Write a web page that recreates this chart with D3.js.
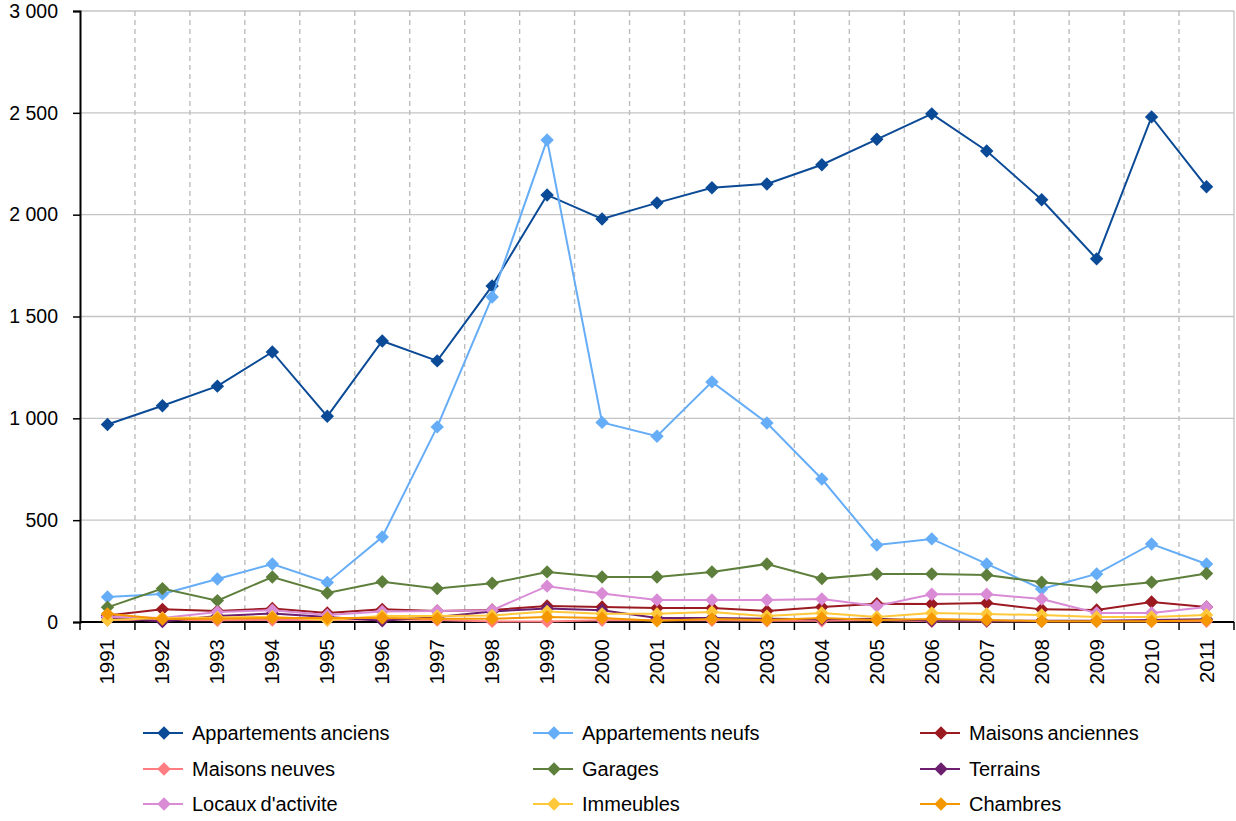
<!DOCTYPE html>
<html>
<head>
<meta charset="utf-8">
<script src="https://cdn.jsdelivr.net/npm/d3@7/dist/d3.min.js"></script>
<style>
  html, body { margin: 0; padding: 0; background: #fff; }
  svg { display: block; font-family: "Liberation Sans", Arial, sans-serif; }
</style>
</head>
<body>
<svg id="chart" width="1236" height="821"></svg>
<script>
// Categories (years) and transaction counts per property type
const years = ["1991","1992","1993","1994","1995","1996","1997","1998","1999","2000",
               "2001","2002","2003","2004","2005","2006","2007","2008","2009","2010","2011"];

const appartementsAnciens = [970,1062,1158,1326,1010,1380,1282,1650,2097,1979,2058,2132,2151,2245,2370,2495,2313,2073,1783,2480,2137];
const appartementsNeufs   = [123,138,211,285,194,417,958,1596,2367,980,912,1179,977,702,378,408,285,162,236,383,285];
const maisonsAnciennes    = [32,62,54,66,44,62,54,59,79,74,69,69,54,74,90,88,93,62,59,98,74];
const maisonsNeuves       = [10,10,8,10,10,14,10,3,3,8,8,8,6,6,10,4,4,4,4,4,4];
const garages             = [72,164,105,221,142,198,164,190,246,221,221,246,285,213,236,236,231,195,170,195,238];
const terrains            = [22,2,30,42,24,6,24,52,66,58,20,20,16,14,16,6,6,6,6,10,14];
const locauxActivite      = [26,20,49,58,34,52,54,58,176,140,108,108,108,113,79,136,136,113,44,44,74];
const immeubles           = [10,20,22,26,10,30,30,32,52,40,40,49,29,44,25,44,39,34,25,25,34];
const chambres            = [40,15,16,20,20,20,16,16,25,20,6,15,10,20,10,15,10,4,4,4,8];

const yTicks = [0,500,1000,1500,2000,2500,3000];

const seriesNames  = ["Appartements anciens","Appartements neufs","Maisons anciennes",
                      "Maisons neuves","Garages","Terrains",
                      "Locaux d'activite","Immeubles","Chambres"];
const seriesValues = [appartementsAnciens, appartementsNeufs, maisonsAnciennes,
                      maisonsNeuves, garages, terrains,
                      locauxActivite, immeubles, chambres];
const seriesColors = ["#0b4a96","#66adf7","#9b1a22",
                      "#ff7c80","#5e7f3c","#6c1f6e",
                      "#d98bd5","#ffc83a","#f59800"];

const series = seriesNames.map((name, i) => ({
  name, color: seriesColors[i],
  values: years.map((y, j) => ({ year: y, value: seriesValues[i][j] }))
}));

const svg = d3.select("#chart");
const plotLeft = 80, plotRight = 1234, plotTop = 11, plotBottom = 622;

const x = d3.scaleBand().domain(years).range([plotLeft, plotRight]).paddingInner(0).paddingOuter(0);
const y = d3.scaleLinear().domain([0, 3000]).range([plotBottom, plotTop]);
const fmt = v => d3.format(",")(v).replace(/,/g, " ");

// Horizontal grid
svg.append("g").selectAll("line").data(yTicks.filter(t => t > 0)).join("line")
  .attr("x1", plotLeft).attr("x2", plotRight)
  .attr("y1", d => y(d)).attr("y2", d => y(d))
  .attr("stroke", "#c4c4c4").attr("stroke-width", 1.3);

// Vertical dashed grid at category boundaries
const bounds = years.slice(1).map(yr => x(yr));
svg.append("g").selectAll("line").data(bounds).join("line")
  .attr("x1", d => d).attr("x2", d => d)
  .attr("y1", plotTop).attr("y2", plotBottom)
  .attr("stroke", "#bdbdbd").attr("stroke-width", 1.4)
  .attr("stroke-dasharray", "5,4");

// Right border of plot area
svg.append("line").attr("x1", plotRight).attr("x2", plotRight).attr("y1", plotTop).attr("y2", plotBottom)
  .attr("stroke", "#c4c4c4").attr("stroke-width", 1.3);

// Y axis
const yAxis = svg.append("g").attr("transform", `translate(${plotLeft},0)`)
  .call(d3.axisLeft(y).tickValues(yTicks).tickFormat(fmt).tickSize(7).tickPadding(15));
yAxis.select(".domain").attr("stroke", "#000").attr("stroke-width", 2);
yAxis.selectAll(".tick line").attr("stroke", "#000").attr("stroke-width", 1.5);
yAxis.selectAll(".tick text").attr("font-size", 19.5).attr("fill", "#000")
  .attr("font-family", "Liberation Sans, Arial, sans-serif");

// X axis with ticks at category boundaries
const xg = svg.append("g");
xg.append("line").attr("x1", plotLeft).attr("x2", plotRight).attr("y1", plotBottom).attr("y2", plotBottom)
  .attr("stroke", "#000").attr("stroke-width", 2);
xg.selectAll(".xt").data(years.map(yr => x(yr)).concat([plotRight])).join("line")
  .attr("class", "xt")
  .attr("x1", d => d).attr("x2", d => d).attr("y1", plotBottom).attr("y2", plotBottom + 8)
  .attr("stroke", "#000").attr("stroke-width", 1.5);
xg.selectAll("text").data(years).join("text")
  .attr("transform", d => `translate(${x(d) + x.bandwidth() / 2 + 7},${plotBottom + 17}) rotate(-90)`)
  .attr("text-anchor", "end")
  .attr("font-size", 20.5).attr("fill", "#000")
  .text(d => d);

// Lines and diamond markers
const line = d3.line()
  .x(d => x(d.year) + x.bandwidth() / 2)
  .y(d => y(d.value));
const diamond = d3.symbol().type(d3.symbolDiamond2).size(115);

const sg = svg.append("g").selectAll("g").data(series).join("g");
sg.append("path")
  .attr("d", d => line(d.values))
  .attr("fill", "none").attr("stroke", d => d.color).attr("stroke-width", 2);
sg.each(function (s) {
  d3.select(this).selectAll("path.m").data(s.values).join("path")
    .attr("class", "m")
    .attr("d", diamond)
    .attr("transform", d => `translate(${x(d.year) + x.bandwidth() / 2},${y(d.value)})`)
    .attr("fill", s.color);
});

// Legend: three columns, three rows
const colX = [143, 533, 920], rowY = [733, 769, 804];
const lg = svg.append("g").selectAll("g").data(series).join("g")
  .attr("transform", (d, i) => `translate(${colX[i % 3]},${rowY[Math.floor(i / 3)]})`);
lg.append("line").attr("x1", 0).attr("x2", 40).attr("y1", 0).attr("y2", 0)
  .attr("stroke", d => d.color).attr("stroke-width", 2);
lg.append("path").attr("d", diamond).attr("transform", "translate(21,0)")
  .attr("fill", d => d.color);
lg.append("text").attr("x", 49).attr("y", 7)
  .attr("font-size", 20).attr("fill", "#000")
  .attr("word-spacing", "-1.5")
  .text(d => d.name);
</script>
</body>
</html>
